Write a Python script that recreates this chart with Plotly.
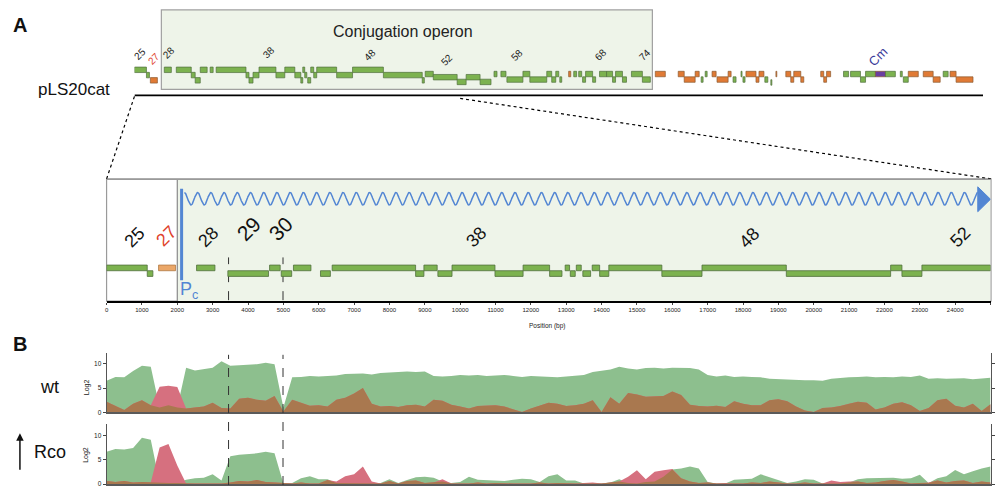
import numpy as np
import plotly.graph_objects as go

W, H = 995, 488
def px(x): return x / W
def py(y): return 1 - y / H

# ---------------- DATA ----------------
# top map: pLS20cat genes (kb), lane, kind (g=green, o=orange, p=purple Cm)
top_start = [0.00,0.92,1.22,2.29,3.21,4.36,4.66,5.05,5.81,6.27,8.56,8.79,9.10,9.56,10.86,11.54,12.31,12.77,12.92,13.07,
             13.30,13.53,13.76,13.99,15.52,16.74,19.11,22.09,22.32,22.94,24.77,25.46,26.53,27.60,28.13,28.59,29.82,30.35,
             31.65,32.03,32.34,32.65,33.33,33.72,34.10,34.40,34.63,35.17,35.70,36.24,36.70,36.93,37.46,38.15,38.99,
             39.98,41.74,42.20,43.04,43.50,43.81,44.34,44.72,45.57,45.95,46.56,46.71,46.94,47.71,47.94,48.39,48.85,49.24,
             50.00,50.38,50.61,51.15,52.68,52.91,53.13,54.43,54.97,55.73,56.12,56.88,57.65,58.79,59.02,59.40,60.55,61.31,
             62.08,62.61,63.07]
top_end = [0.92,1.15,1.76,2.83,4.36,4.66,5.05,5.58,6.04,8.56,8.79,9.10,9.56,10.86,11.54,12.31,12.77,12.92,13.07,13.23,
           13.53,13.76,13.99,15.52,16.74,19.11,22.09,22.25,22.94,24.77,25.46,26.53,27.37,27.83,28.52,29.82,30.35,31.65,
           32.03,32.34,32.57,32.80,33.49,33.94,34.33,34.63,35.17,35.40,36.24,36.70,36.93,37.46,37.77,38.99,39.60,
           40.75,42.20,43.04,43.35,43.65,43.96,44.65,45.57,45.80,46.18,46.64,46.87,47.71,47.94,48.32,48.62,48.93,49.31,
           50.38,50.61,51.15,51.38,52.91,53.13,53.44,54.82,55.73,56.12,56.88,57.65,58.41,58.94,59.40,60.17,61.31,61.85,
           62.46,63.07,64.37]
top_lane = [0,1,2,0,0,1,2,0,0,0,1,2,1,0,1,0,1,2,0,1,
            2,0,1,0,1,0,1,2,0.8,1.4,2.3,1.4,2.3,0.8,0.8,1.85,0.8,1.85,
            0.8,1.85,0.8,1.85,0.8,0.8,0.8,1.85,0.8,1.85,0.8,0.8,1.85,0.8,1.85,0.8,1.85,
            0.8,0.8,1.85,0.8,1.85,0.8,0.8,1.85,0.8,1.85,0.8,1.85,0.8,1.85,0.8,1.85,2.4,0.8,
            0.8,1.85,0.8,1.85,0.8,1.85,0.8,0.8,0.8,1.85,0.8,0.8,0.8,0.8,1.85,0.8,0.8,1.85,
            0.8,0.8,1.85]
top_kind = ["g","g","o","g","g","g","g","g","g","g","g","g","g","g","g","g","g","g","g","g",
            "g","g","g","g","g","g","g","g","g","g","g","g","g","g","g","g","g","g",
            "g","g","g","g","o","g","g","g","g","g","g","g","g","g","g","g","g",
            "o","o","o","o","g","g","o","o","o","g","g","g","o","o","o","g","g","o",
            "o","o","o","o","o","o","o","g","g","g","g","p","g","g","g","o","o","o",
            "g","o","o"]
top_label_text = ["25", "27", "28", "38", "48", "52", "58", "68", "74", "Cm"]
top_label_kb = [0.45, 1.5, 2.65, 10.3, 18.1, 24.0, 29.4, 35.8, 39.2, 57.1]
plasmid_len_kb = 65.14

# zoomed map: genes (bp)
mid_start = [0,1150,1470,2545,3430,4610,4940,5285,6050,6380,8740,8975,9370,9770,10985,11780,12530,12970,
             13115,13285,13470,13735,13945,14205,15705,16840,19225,22175,22495,23060]
mid_end = [1150,1310,1950,3065,4580,4910,5235,5780,6330,8740,8975,9350,9770,10985,11780,12530,12880,13095,
           13255,13425,13690,13945,14205,15705,16840,19225,22175,22495,23060,25000]
mid_lane = [0,1,0,0,1,0,1,0,1,0,1,0,1,0,1,0,1,0,1,0,1,0,1,0,1,0,1,0,1,0]
mid_kind = ["g","g","o","g","g","g","g","g","g","g","g","g","g","g","g","g","g","g",
            "g","g","g","g","g","g","g","g","g","g","g","g"]
mid_label_text = ["25", "27", "28", "29", "30", "38", "48", "52"]
mid_label_bp = [789, 1690, 2873, 4028, 4930, 10451, 18169, 24141]
pc_bp = 2122
operon_start_bp = 2000
dashed_bp = [3450, 4990]

# coverage (log2), every 250 bp
pos = list(range(0, 25001, 250))
wt_sense = [6.5,7.3,7.2,8.5,9.6,9.4,1.0,1.5,1.0,9.2,8.6,8.9,9.2,10.5,9.6,9.7,9.8,9.9,10.2,9.9,1.0,7.2,7.3,7.5,7.4,
            7.5,7.6,7.9,8.0,8.0,7.8,8.1,8.2,8.3,8.4,8.3,8.4,7.5,7.4,7.5,7.7,7.6,7.7,7.5,7.6,7.7,7.5,7.3,7.5,7.4,
            7.3,7.2,7.4,7.5,7.7,8.3,8.6,8.8,9.4,9.0,8.8,9.1,9.2,9.0,9.2,9.2,9.1,8.8,7.7,7.4,7.6,7.3,7.4,7.3,
            7.2,6.9,6.8,6.7,6.6,6.6,6.6,6.5,6.9,7.1,7.2,7.3,7.4,7.2,7.3,7.2,7.4,7.3,7.6,6.9,7.0,6.9,6.9,7.0,6.8,6.9,7.1]
wt_anti = [2.2,1.4,0.5,1.8,2.5,1.5,5.3,5.5,5.2,0.8,1.0,1.2,2.0,0.9,0.8,2.8,3.0,2.6,2.4,3.4,0.2,2.6,2.0,1.4,1.5,
           1.2,2.6,3.0,3.9,5.0,1.8,1.2,1.3,1.1,1.5,1.6,1.2,2.6,2.4,1.6,1.2,0.8,1.3,1.4,1.5,1.2,0.6,0.1,0.8,1.4,
           2.0,1.8,1.3,1.5,1.8,2.5,0.1,3.1,1.8,4.0,3.7,3.2,3.3,3.4,4.3,3.6,1.6,1.3,1.2,1.4,1.1,2.3,1.8,1.5,
           1.5,2.5,2.7,2.3,1.2,0.4,0.1,0.9,1.0,1.3,1.8,2.2,2.0,0.6,1.0,1.8,2.1,1.5,0.3,0.9,2.5,2.8,1.4,1.0,1.8,0.3,1.7]
rco_sense = [6.6,7.2,7.1,7.4,9.5,9.1,0.3,0.2,0.2,0.9,1.2,1.3,2.0,0.7,5.7,6.0,6.1,6.3,6.6,6.3,0.1,0.2,1.2,1.6,1.0,
             1.0,0.2,0.2,0.1,0.1,0.1,0.2,1.0,0.2,0.8,1.4,1.5,1.3,0.5,0.2,0.4,1.5,0.9,0.8,0.7,0.6,0.9,1.1,1.0,0.4,
             1.6,2.0,0.7,0.7,0.1,0.1,0.1,0.3,1.0,0.2,0.1,0.4,0.5,1.5,3.0,3.2,3.6,3.2,0.4,0.1,0.1,0.9,1.0,1.1,
             2.0,1.4,0.8,0.2,0.5,1.0,0.9,0.1,0.2,0.1,0.3,1.0,1.2,1.2,1.2,1.3,1.1,1.2,1.9,0.2,1.2,1.6,2.9,2.0,2.6,3.2,3.6]
rco_anti = [0.6,0.4,0.6,0.3,0.4,0.3,7.5,8.2,3.8,0.1,0.1,0.1,0.1,0.1,0.3,0.6,0.5,0.8,0.4,0.3,0.1,0.1,0.3,0.1,0.1,
            0.8,0.5,1.6,2.0,3.6,0.5,0.1,0.6,0.1,0.6,0.7,0.2,0.3,1.0,0.1,0.1,0.1,0.3,0.1,0.2,0.1,0.1,0.1,0.1,0.3,
            0.1,0.2,0.1,0.1,0.2,0.3,0.1,0.3,0.5,1.5,2.8,1.0,2.5,2.8,3.1,1.2,0.5,0.2,0.3,0.1,0.2,0.1,0.1,0.3,
            0.2,0.5,0.3,0.1,0.1,0.3,0.1,0.1,0.7,0.4,0.5,0.5,0.2,0.3,0.6,0.8,0.5,0.1,0.2,0.3,0.7,0.3,0.6,0.7,0.2,0.5,0.3]

# ---------------- STYLE ----------------
FONT = "Liberation Sans, Arial, sans-serif"
GREEN = "#7cb24f"
EDGE = "#50703d"
ORANGE = "#e07a35"
ORANGE_MID = "#eba768"
PURPLE = "#6a3ea0"
BLUE = "#5386d3"
C_SENSE = "#8dbf8e"
C_ANTI = "#d6707f"
C_BOTH = "#a9784f"
kind_fill = {"g": GREEN, "o": ORANGE, "p": PURPLE}

fig = go.Figure()
shapes = []
ann = []

def text(x, y, t, size, color="#111", angle=0, xref="paper", xanchor="center"):
    ann.append(dict(xref=xref, yref="paper", x=x, y=y, text=t, showarrow=False, textangle=angle,
                    xanchor=xanchor, yanchor="middle", font=dict(family=FONT, size=size, color=color)))

# --- panel A top ---
shapes.append(dict(type="rect", xref="paper", yref="paper", x0=px(160), x1=px(653), y0=py(90), y1=py(10),
                   fillcolor="#eef4e9", line=dict(color="#a0a0a0", width=1.2), layer="below"))
for s, e, l, k in zip(top_start, top_end, top_lane, top_kind):
    t = 7.5 + 5.3 * l
    shapes.append(dict(type="rect", xref="x", yref="y", x0=s, x1=e, y0=t, y1=t + 5.5,
                       fillcolor=kind_fill[k], line=dict(color=EDGE if k == "g" else "#8a5a30", width=0.7)))
shapes.append(dict(type="line", xref="x", yref="paper", x0=0, x1=plasmid_len_kb, y0=py(96), y1=py(96),
                   line=dict(color="black", width=1.6)))
# zoom connectors
shapes.append(dict(type="line", xref="paper", yref="paper", x0=px(133), y0=py(97), x1=px(105), y1=py(180),
                   line=dict(color="black", width=1.2, dash="dot")))
shapes.append(dict(type="line", xref="paper", yref="paper", x0=px(460), y0=py(99), x1=px(993), y1=py(180),
                   line=dict(color="black", width=1.2, dash="dot")))

top_label_y = [54, 59, 53, 53, 55, 60, 55, 55, 55, 57]
for txt, kb, yy in zip(top_label_text, top_label_kb, top_label_y):
    col = "#e0412b" if txt == "27" else ("#3a3a9a" if txt == "Cm" else "#222222")
    size = 13 if txt == "Cm" else 10
    text(kb, py(yy), txt, size, col, angle=-45, xref="x")

text(px(403), py(32), "Conjugation operon", 16, "#222")
text(px(72), py(90), "pLS20cat", 17)
text(px(18), py(25), "<b>A</b>", 20)
text(px(18), py(346), "<b>B</b>", 20)

# --- panel A zoom ---
shapes.append(dict(type="rect", xref="paper", yref="paper", x0=px(105), x1=px(993), y0=py(303), y1=py(180),
                   fillcolor="white", line=dict(color="#9a9a9a", width=1.2), layer="below"))
shapes.append(dict(type="rect", xref="x2", yref="y2", x0=operon_start_bp, x1=25000, y0=0.6, y1=123,
                   fillcolor="#eef4e9", line=dict(width=0), layer="below"))
shapes.append(dict(type="line", xref="x2", yref="y2", x0=operon_start_bp, x1=operon_start_bp, y0=0.6, y1=123,
                   line=dict(color="#8a8a8a", width=1.2)))
shapes.append(dict(type="line", xref="paper", yref="paper", x0=px(105), x1=px(993), y0=py(180.5), y1=py(180.5),
                   line=dict(color="#9a9a9a", width=1.2)))
for d in dashed_bp:
    shapes.append(dict(type="line", xref="x2", yref="paper", x0=d, x1=d, y0=py(302), y1=py(259),
                       line=dict(color="#333", width=1, dash="dash")))
    shapes.append(dict(type="line", xref="x2", yref="paper", x0=d, x1=d, y0=py(488), y1=py(357),
                       line=dict(color="#333", width=1, dash="dash")))
for s, e, l, k in zip(mid_start, mid_end, mid_lane, mid_kind):
    t = 86.7 + 5.7 * l
    shapes.append(dict(type="rect", xref="x2", yref="y2", x0=s, x1=e, y0=t, y1=t + 5.7,
                       fillcolor=GREEN if k == "g" else ORANGE_MID,
                       line=dict(color=EDGE if k == "g" else "#b07a45", width=0.8)))
# Pc promoter
shapes.append(dict(type="line", xref="x2", yref="y2", x0=pc_bp, x1=pc_bp, y0=10, y1=102,
                   line=dict(color=BLUE, width=3)))
# arrowhead of transcript
shapes.append(dict(type="path", xref="x2", yref="y2",
                   path="M 24640,8 L 25000,20.5 L 24640,33 Z", fillcolor=BLUE, line=dict(color=BLUE, width=1)))

wave_x = np.linspace(2200, 24640, 2400)
wave_y = 20 - 6.3 * np.cos(2 * np.pi * (wave_x - 2200) / 374)
fig.add_trace(go.Scatter(x=wave_x, y=wave_y, xaxis="x2", yaxis="y2", mode="lines",
                         line=dict(color=BLUE, width=1.5), hoverinfo="skip"))
fig.add_trace(go.Scatter(x=[0], y=[0], xaxis="x", yaxis="y", mode="markers",
                         marker=dict(opacity=0), hoverinfo="skip"))

mid_label_y = [238, 237, 238, 230, 230, 238, 239, 238]
for txt, bp, yy in zip(mid_label_text, mid_label_bp, mid_label_y):
    col = "#e0412b" if txt == "27" else "#111"
    size = 21 if txt in ("29", "30") else 18
    text(bp, py(yy), txt, size, col, angle=-45, xref="x2")
text(px(177), py(292), "P<sub>c</sub>", 18, BLUE, xanchor="left")
text(px(548), py(328), "Position (bp)", 6.5, "#222")

# --- panel B coverage ---
both_wt = np.minimum(wt_sense, wt_anti)
both_rco = np.minimum(rco_sense, rco_anti)
for xa, ya, s, a, b in (("x3", "y3", wt_sense, wt_anti, both_wt), ("x4", "y4", rco_sense, rco_anti, both_rco)):
    fig.add_trace(go.Scatter(x=pos, y=s, xaxis=xa, yaxis=ya, mode="lines", fill="tozeroy",
                             fillcolor=C_SENSE, line=dict(width=0, color=C_SENSE), hoverinfo="skip"))
    fig.add_trace(go.Scatter(x=pos, y=a, xaxis=xa, yaxis=ya, mode="lines", fill="tozeroy",
                             fillcolor=C_ANTI, line=dict(width=0, color=C_ANTI), hoverinfo="skip"))
    fig.add_trace(go.Scatter(x=pos, y=b, xaxis=xa, yaxis=ya, mode="lines", fill="tozeroy",
                             fillcolor=C_BOTH, line=dict(width=0, color=C_BOTH), hoverinfo="skip"))

text(px(48), py(389), "wt", 18)
text(px(48), py(455), "Rco", 18)
ann.append(dict(xref="paper", yref="paper", x=px(18), y=py(436), ax=0, ay=38, axref="pixel",
                ayref="pixel", text="", showarrow=True, arrowhead=2, arrowsize=1, arrowwidth=1.5, arrowcolor="#111"))
for yy in (390, 458):
    text(px(85), py(yy), "Log2", 7, "#222", angle=-90)

cov_y = dict(range=[0, 12.24], tickvals=[0, 5, 10], ticks="outside", ticklen=3, tickwidth=1, tickcolor="#444",
             showline=True, linecolor="#555", linewidth=1, mirror="ticks", showgrid=False, zeroline=False,
             tickfont=dict(family=FONT, size=6.5, color="#222"))
cov_x = dict(domain=[px(105), px(992.5)], range=[0, 25000], showline=True, linecolor="#5a5a5a", linewidth=2,
             showticklabels=False, ticks="", showgrid=False, zeroline=False)

fig.update_layout(
    width=W, height=488, margin=dict(l=0, r=0, t=0, b=0),
    paper_bgcolor="white", plot_bgcolor="rgba(0,0,0,0)", showlegend=False,
    xaxis=dict(domain=[px(133), px(985)], range=[0, plasmid_len_kb], visible=False, anchor="y"),
    yaxis=dict(domain=[py(90), py(60)], range=[30, 0], visible=False, anchor="x"),
    xaxis2=dict(domain=[px(105), px(992.5)], range=[0, 25000], anchor="y2", showline=True, linecolor="black",
                linewidth=2, ticks="outside", ticklen=2, tickwidth=1, tickvals=list(range(0, 25001, 1000)),
                tickformat="d", tickfont=dict(family=FONT, size=6, color="#222"),
                showgrid=False, zeroline=False),
    yaxis2=dict(domain=[py(303), py(180)], range=[123, 0], visible=False, anchor="x2"),
    xaxis3=dict(anchor="y3", **cov_x),
    yaxis3=dict(domain=[py(415), py(355)], anchor="x3", **cov_y),
    xaxis4=dict(anchor="y4", **cov_x),
    yaxis4=dict(domain=[py(487), py(427)], anchor="x4", **cov_y),
    shapes=shapes, annotations=ann,
)

fig.write_html("out.html", config={"displayModeBar": False},
               post_script="document.body.style.margin='0';document.body.style.overflow='hidden';")
